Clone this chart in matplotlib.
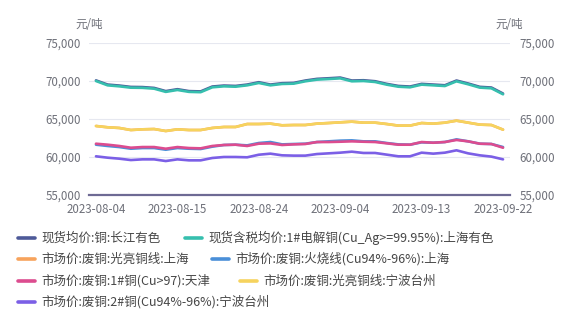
import matplotlib
matplotlib.use('Agg')
import matplotlib.pyplot as plt
from matplotlib.lines import Line2D
import pandas as pd

plt.rcParams['font.family'] = ['Noto Sans CJK SC', 'DejaVu Sans']

# trading days 2023-08-04 .. 2023-09-22
dates = pd.bdate_range('2023-08-04', '2023-09-22').strftime('%Y-%m-%d').tolist()

changjiang = [70080, 69530, 69400, 69220, 69200, 69090, 68670, 68920, 68670, 68630, 69270, 69400,
              69350, 69530, 69840, 69530, 69710, 69750, 70060, 70280, 70360, 70450, 70060, 70100,
              69970, 69620, 69350, 69270, 69620, 69530, 69440, 70060, 69670, 69230, 69140, 68970, ]
changjiang[-1] = 68350
shanghai_1 = [70000, 69430, 69300, 69120, 69100, 68990, 68570, 68820, 68570, 68530, 69170, 69300,
              69250, 69430, 69740, 69430, 69610, 69650, 69960, 70180, 70260, 70350, 69960, 70000,
              69870, 69520, 69250, 69170, 69520, 69430, 69340, 69960, 69570, 69130, 69040, 68870]
shanghai_1[-1] = 68250
guangliang_sh = [64080, 63910, 63820, 63550, 63640, 63680, 63420, 63640, 63550, 63550, 63820, 63950,
                 63950, 64340, 64340, 64390, 64170, 64210, 64210, 64390, 64470, 64560, 64650, 64520,
                 64520, 64340, 64130, 64130, 64470, 64390, 64520, 64780, 64520, 64260, 64210, 63600]
huoshao_sh = [61620, 61450, 61310, 61090, 61180, 61180, 60960, 61180, 61090, 61050, 61360, 61580,
              61620, 61530, 61840, 61970, 61660, 61710, 61750, 61970, 62060, 62150, 62190, 62060,
              62060, 61840, 61660, 61620, 61930, 61880, 61970, 62320, 62060, 61750, 61710, 61310]
tianjin = [61750, 61620, 61450, 61220, 61310, 61310, 61090, 61310, 61180, 61140, 61450, 61580,
           61620, 61450, 61750, 61790, 61580, 61660, 61710, 61970, 61970, 62010, 62060, 62010,
           61970, 61800, 61620, 61620, 61970, 61880, 61970, 62240, 62060, 61750, 61710, 61220]
guangliang_nb = list(guangliang_sh)
no2_nb = [60090, 59910, 59780, 59600, 59690, 59690, 59470, 59690, 59560, 59560, 59870, 60000,
          60000, 59960, 60300, 60440, 60220, 60180, 60180, 60390, 60480, 60570, 60700, 60530,
          60530, 60310, 60090, 60090, 60570, 60440, 60570, 60880, 60480, 60220, 60050, 59690]

names = ['现货均价:铜:长江有色', '现货含税均价:1#电解铜(Cu_Ag>=99.95%):上海有色',
         '市场价:废铜:光亮铜线:上海', '市场价:废铜:火烧线(Cu94%-96%):上海',
         '市场价:废铜:1#铜(Cu>97):天津', '市场价:废铜:光亮铜线:宁波台州',
         '市场价:废铜:2#铜(Cu94%-96%):宁波台州']
colors = ['#4e5a99', '#36bfae', '#f7a35c', '#4a8fd8', '#dc4c8f', '#f6d35e', '#7b5fe6']
series = [changjiang, shanghai_1, guangliang_sh, huoshao_sh, tianjin, guangliang_nb, no2_nb]
yticks = [55000, 60000, 65000, 70000, 75000]
xlabels_at = [0, 7, 14, 21, 28, 35]

fig = plt.figure(figsize=(5.85, 3.23), dpi=100)
ax = fig.add_axes([89/585, 1-195/323, 421/585, 152/323])
x = list(range(len(dates)))
for s, c in zip(series, colors):
    ax.plot(x, s, color=c, lw=1.9, solid_capstyle='round')

ax.set_xlim(-0.6, 35.6)
ax.set_ylim(55000, 75000)
ax.set_yticks(yticks)
ax.set_yticklabels([f'{v:,}' for v in yticks])
ax.set_xticks(xlabels_at)
ax.set_xticklabels([dates[i] for i in xlabels_at])
ax.grid(axis='y', color='#e6e8f0', lw=0.8)
ax.set_axisbelow(True)
for sp in ['top', 'left', 'right']:
    ax.spines[sp].set_visible(False)
ax.spines['bottom'].set_color('#6e6a94')
ax.spines['bottom'].set_linewidth(1.6)
ax.tick_params(axis='both', length=0, labelsize=8.3, colors='#6e7079', pad=6)
ax.tick_params(axis='x', pad=5.5)

ax2 = ax.twinx()
ax2.set_ylim(55000, 75000)
ax2.set_yticks(yticks)
ax2.set_yticklabels([f'{v:,}' for v in yticks])
for sp in ['top', 'left', 'right', 'bottom']:
    ax2.spines[sp].set_visible(False)
ax2.tick_params(axis='y', length=0, labelsize=8.3, colors='#6e7079', pad=7)

fig.text(75/585, 1-25/323, '元/吨', fontsize=8.3, color='#6e7079', va='center', ha='left')
fig.text(495/585, 1-25/323, '元/吨', fontsize=8.3, color='#6e7079', va='center', ha='left')

# legend, flowing layout
rows = [[(18, 0), (185, 1)], [(18, 2), (212, 3)], [(18, 4), (240, 5)], [(18, 6)]]
row_y = [238, 259, 281, 302]
for r, yy in zip(rows, row_y):
    for hx, k in r:
        fy = 1 - yy/323
        fig.add_artist(Line2D([hx/585, (hx+17)/585], [fy, fy], color=colors[k], lw=2.6,
                              solid_capstyle='round'))
        fig.text((hx+23)/585, fy, names[k], fontsize=9, color='#464646', va='center', ha='left')

fig.savefig('out.png', dpi=100)
